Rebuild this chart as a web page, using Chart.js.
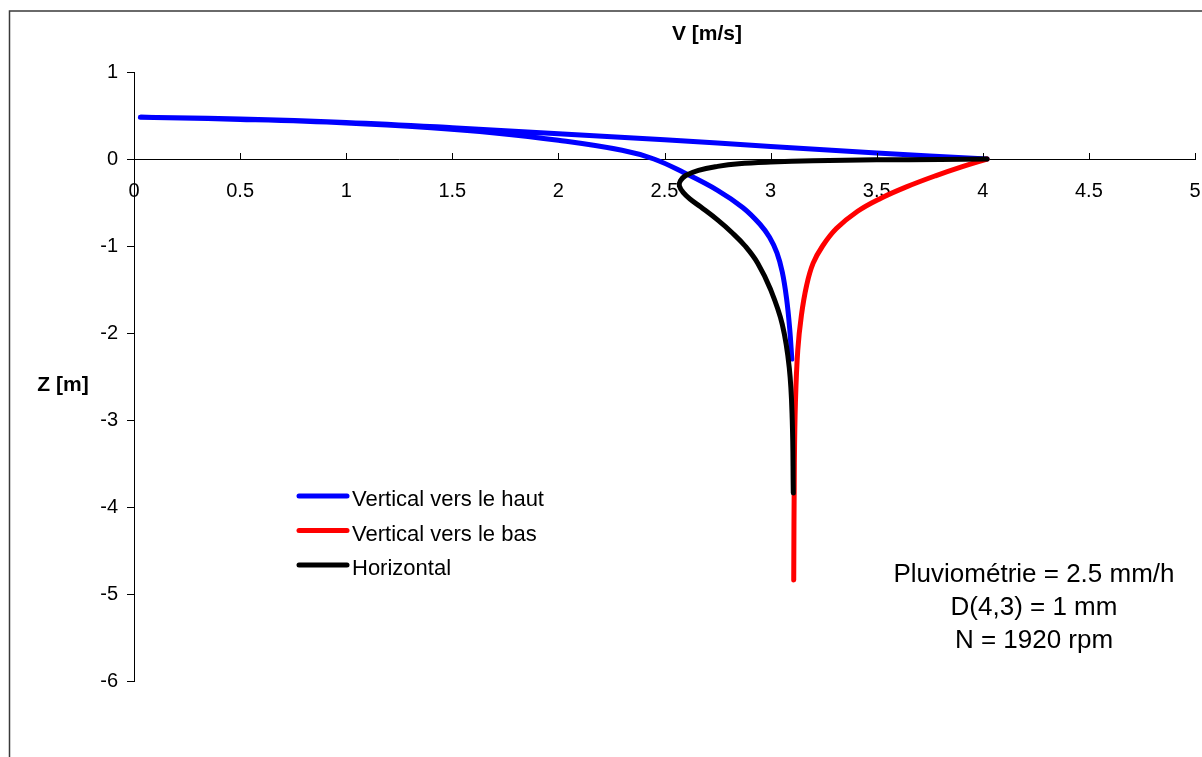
<!DOCTYPE html>
<html>
<head>
<meta charset="utf-8">
<script src="https://cdn.jsdelivr.net/npm/chart.js@4/dist/chart.umd.min.js"></script>
<style>
  html, body { margin: 0; padding: 0; background: #fff; }
  canvas { display: block; }
</style>
</head>
<body>
<canvas id="chart" width="1202" height="757"></canvas>
<script>
// Vertical vers le haut (goes up to ~0.48 m then falls back)
const upV = [4.02, 3.75, 3.5, 3.0, 2.5, 2.0, 1.5, 1.0, 0.5, 0.03, 0.5, 1.0, 1.4, 1.7, 2.0, 2.3, 2.45, 2.59, 2.75, 2.87, 2.95, 2.995, 3.03, 3.055, 3.075, 3.09, 3.1];
const upZ = [0, 0.035, 0.07, 0.145, 0.22, 0.29, 0.36, 0.42, 0.46, 0.48, 0.455, 0.415, 0.36, 0.30, 0.215, 0.10, 0.0, -0.155, -0.36, -0.56, -0.75, -0.9, -1.08, -1.3, -1.6, -1.95, -2.3];

// Vertical vers le bas
const downV = [4.02, 3.9, 3.78, 3.64, 3.52, 3.41, 3.31, 3.245, 3.2, 3.17, 3.145, 3.128, 3.117, 3.112, 3.109];
const downZ = [0, -0.09, -0.19, -0.32, -0.45, -0.6, -0.8, -1.0, -1.2, -1.45, -1.8, -2.2, -2.8, -3.5, -4.84];

// Horizontal
const horV = [4.02, 3.8, 3.5, 3.2, 3.0, 2.85, 2.75, 2.66, 2.6, 2.575, 2.57, 2.59, 2.62, 2.67, 2.75, 2.82, 2.88, 2.94, 3.0, 3.055, 3.088, 3.102, 3.107];
const horZ = [0, -0.005, -0.01, -0.02, -0.035, -0.055, -0.085, -0.13, -0.19, -0.25, -0.31, -0.39, -0.46, -0.55, -0.70, -0.85, -1.0, -1.2, -1.5, -1.9, -2.4, -3.0, -3.84];

const seriesLabels = ['Vertical vers le haut', 'Vertical vers le bas', 'Horizontal'];
const seriesColors = ['#0000ff', '#ff0000', '#000000'];
const xRange = [0, 5, 0.5];
const yRange = [-6, 1, 1];
const xTitle = 'V [m/s]';
const yTitle = 'Z [m]';
const noteLines = ['Pluviométrie = 2.5 mm/h', 'D(4,3) = 1 mm', 'N = 1920 rpm'];

const FONT = '"Liberation Sans", Arial, sans-serif';

function pts(xs, ys) {
  return xs.map((x, i) => ({ x, y: ys[i] }));
}

const frame = {
  id: 'frame',
  beforeDraw(chart) {
    const c = chart.ctx;
    c.save();
    c.fillStyle = '#fff';
    c.fillRect(0, 0, chart.width, chart.height);
    c.strokeStyle = '#3a3a3a';
    c.lineWidth = 1.5;
    c.strokeRect(9.5, 11, chart.width + 20, chart.height + 20);
    c.restore();
  },
  afterDraw(chart) {
    const c = chart.ctx;
    const xs = chart.scales.x, ys = chart.scales.y;
    const y0 = ys.getPixelForValue(0);
    c.save();
    // x tick marks point up from the axis
    c.strokeStyle = '#000';
    c.lineWidth = 1;
    xs.ticks.forEach(t => {
      const px = Math.round(xs.getPixelForValue(t.value)) + 0.5;
      c.beginPath();
      c.moveTo(px, y0 - 6);
      c.lineTo(px, y0);
      c.stroke();
    });
    // axis titles
    c.fillStyle = '#000';
    c.font = 'bold 21px ' + FONT;
    c.textAlign = 'center';
    c.textBaseline = 'alphabetic';
    c.fillText(xTitle, 707, 40);
    c.fillText(yTitle, 63, 391);
    // legend
    c.font = '22px ' + FONT;
    c.textAlign = 'left';
    c.lineCap = 'round';
    chart.data.datasets.forEach((ds, i) => {
      const ly = 496 + i * 34.5;
      c.strokeStyle = ds.borderColor;
      c.lineWidth = 5;
      c.beginPath();
      c.moveTo(299, ly);
      c.lineTo(347, ly);
      c.stroke();
      c.fillText(ds.label, 352, ly + 10);
    });
    // note
    c.font = '26px ' + FONT;
    c.textAlign = 'center';
    noteLines.forEach((s, i) => c.fillText(s, 1034, 582 + i * 33));
    c.restore();
  }
};

const common = {
  showLine: true,
  pointRadius: 0,
  borderWidth: 5,
  tension: 0.4,
  borderCapStyle: 'round',
  borderJoinStyle: 'round',
};

new Chart(document.getElementById('chart'), {
  type: 'scatter',
  data: {
    datasets: [
      { ...common, label: seriesLabels[0], data: pts(upV, upZ), borderColor: seriesColors[0], backgroundColor: seriesColors[0], order: 2 },
      { ...common, label: seriesLabels[1], data: pts(downV, downZ), borderColor: seriesColors[1], backgroundColor: seriesColors[1], order: 1 },
      { ...common, label: seriesLabels[2], data: pts(horV, horZ), borderColor: seriesColors[2], backgroundColor: seriesColors[2], order: 0 },
    ],
  },
  options: {
    responsive: false,
    animation: false,
    layout: { padding: { top: 72, right: 7, bottom: 76, left: 0 } },
    plugins: { legend: { display: false }, tooltip: { enabled: false } },
    scales: {
      x: {
        type: 'linear',
        position: { y: 0 },
        min: xRange[0], max: xRange[1],
        afterFit: s => { s.paddingLeft = 0; s.paddingRight = 0; },
        ticks: { stepSize: xRange[2], color: '#000', font: { family: FONT, size: 20 }, padding: 20, maxRotation: 0, callback: v => String(v) },
        grid: { display: true, drawOnChartArea: false, drawTicks: false },
        border: { display: true, color: '#000', width: 1 },
      },
      y: {
        type: 'linear',
        position: 'left',
        min: yRange[0], max: yRange[1],
        afterFit: s => { s.width = 134; },
        ticks: { stepSize: yRange[2], color: '#000', font: { family: FONT, size: 20 }, padding: 9 },
        grid: { display: true, drawOnChartArea: false, drawTicks: true, tickLength: 7, color: '#000' },
        border: { display: true, color: '#000', width: 1 },
      },
    },
  },
  plugins: [frame],
});
</script>
</body>
</html>
